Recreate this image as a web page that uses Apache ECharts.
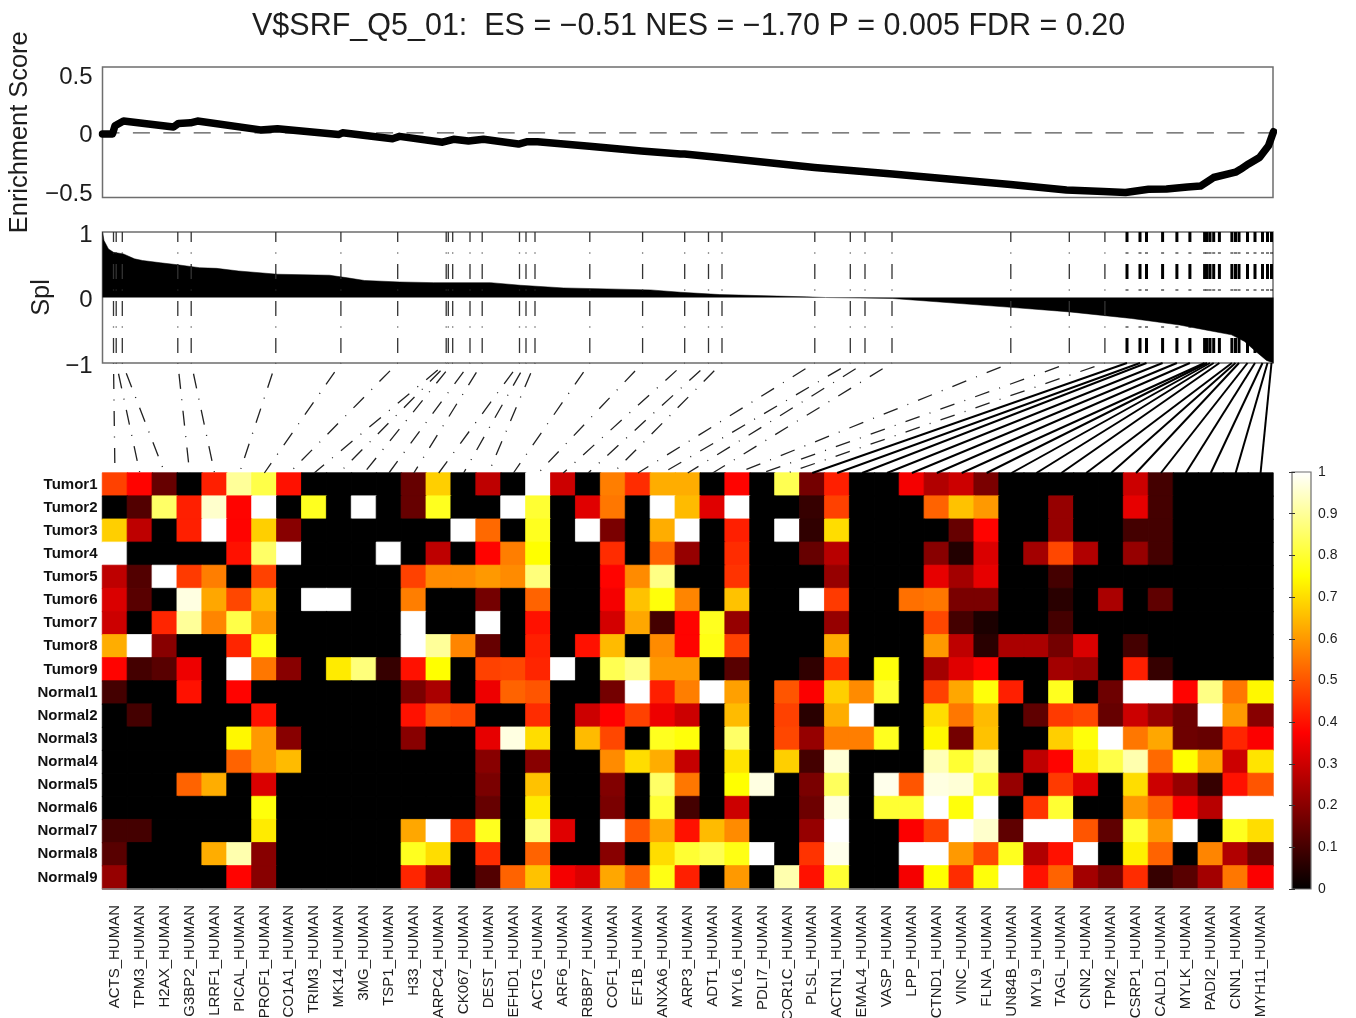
<!DOCTYPE html>
<html><head><meta charset="utf-8">
<style>html,body{margin:0;padding:0;background:#fff}#c{width:1356px;height:1018px}</style>
<script src="https://cdn.jsdelivr.net/npm/echarts@6/dist/echarts.min.js"></script>
</head><body><div id="c"></div>
<script>
const titleText = 'V$SRF_Q5_01:  ES = \u22120.51 NES = \u22121.70 P = 0.005 FDR = 0.20';
const sampleNames = ['Tumor1','Tumor2','Tumor3','Tumor4','Tumor5','Tumor6','Tumor7','Tumor8','Tumor9','Normal1','Normal2','Normal3','Normal4','Normal5','Normal6','Normal7','Normal8','Normal9'];
const geneNames = ['ACTS_HUMAN','TPM3_HUMAN','H2AX_HUMAN','G3BP2_HUMAN','LRRF1_HUMAN','PICAL_HUMAN','PROF1_HUMAN','CO1A1_HUMAN','TRIM3_HUMAN','MK14_HUMAN','3MG_HUMAN','TSP1_HUMAN','H33_HUMAN','ARPC4_HUMAN','CK067_HUMAN','DEST_HUMAN','EFHD1_HUMAN','ACTG_HUMAN','ARF6_HUMAN','RBBP7_HUMAN','COF1_HUMAN','EF1B_HUMAN','ANXA6_HUMAN','ARP3_HUMAN','ADT1_HUMAN','MYL6_HUMAN','PDLI7_HUMAN','COR1C_HUMAN','PLSL_HUMAN','ACTN1_HUMAN','EMAL4_HUMAN','VASP_HUMAN','LPP_HUMAN','CTND1_HUMAN','VINC_HUMAN','FLNA_HUMAN','UN84B_HUMAN','MYL9_HUMAN','TAGL_HUMAN','CNN2_HUMAN','TPM2_HUMAN','CSRP1_HUMAN','CALD1_HUMAN','MYLK_HUMAN','PADI2_HUMAN','CNN1_HUMAN','MYH11_HUMAN'];
const heatValues = [
[.47,.38,.15,0,.42,.9,.82,.4,0,0,0,0,.15,.68, 0,.28,0,1,.3,0,.56,.44,.63,.63,0,.38,0,.83,.17,.42,0,0, .36,.26,.3,.18,0,0,0,0,0,.3,.1,0,0,0,0],
[0,.12,.85,.42,.95,.38,1,0,.78,0,1,0,.15,.78, 0,0,1,.8,0,.33,.55,0,1,.65,.33,1,0,0,.08,.47,0,0, 0,.52,.66,.6,0,0,.22,0,0,.34,.1,0,0,0,0],
[.68,.28,0,.42,1,.38,.68,.2,0,0,0,0,0,0, 1,.53,0,.78,0,1,.18,0,.63,1,0,.42,0,1,.07,.7,0,0, 0,0,.15,.38,0,0,.22,0,0,.1,.1,0,0,0,0],
[1,0,0,0,0,.4,.85,1,0,0,0,1,0,.28, 0,.38,.56,.75,0,0,.44,0,.52,.22,0,.44,0,0,.15,.27,0,0, 0,.2,.05,.32,0,.24,.48,.26,0,.22,.1,0,0,0,0],
[.28,.12,1,.46,.56,0,.47,0,0,0,0,0,.47,.58, .58,.6,.58,.87,0,0,.38,.58,.88,0,0,.45,0,0,0,.22,0,0, 0,.34,.24,.34,0,0,.1,0,0,0,0,0,0,0,0],
[.32,.13,0,.97,.62,.48,.65,0,1,1,0,0,.56,0, 0,.17,0,.52,0,0,.36,.66,.76,.57,0,.66,0,0,1,.46,0,0, .54,.55,.18,.18,0,0,.06,0,.25,0,.14,0,0,0,0],
[.3,0,.43,.9,.57,.82,.6,0,0,0,0,0,1,0, 0,1,0,.4,0,0,.31,.62,.1,.38,.78,.22,0,0,0,.22,0,0, 0,.48,.1,.04,0,0,.1,0,0,0,0,0,0,0,0],
[.63,1,.2,0,0,.43,.77,0,0,0,0,0,1,.9, .57,.15,0,.42,0,.4,.65,0,.58,.38,.77,.47,0,0,0,.63,0,0, 0,.6,.28,.06,.25,.25,.17,.32,0,.1,0,0,0,0,0],
[.38,.1,.13,.35,0,1,.55,.2,0,.72,.87,.08,.4,.75, 0,.47,.48,.43,1,0,.83,.88,.6,.6,0,.13,0,0,.07,.44,0,.76, 0,.24,.33,.38,0,0,.24,.22,0,.42,.08,0,0,0,0],
[.1,0,0,.4,0,.38,0,0,0,0,0,0,.18,.25, 0,.35,.52,.5,0,0,.17,1,.42,.56,1,.61,0,.5,.37,.68,.58,.8, 0,.47,.62,.76,.42,0,.78,0,.16,1,1,.38,.88,.55,.74],
[0,.1,0,0,0,0,.4,0,0,0,0,0,.4,.5, .48,0,0,.44,0,.3,.375,.47,.35,.3,0,.65,0,.47,.06,.63,1,0, 0,.7,.55,.65,0,.14,.46,.48,.15,.3,.22,.16,1,.6,.2],
[0,0,0,0,0,.74,.6,.2,0,0,0,0,.2,0, 0,.34,.97,.7,0,.65,.48,0,.78,.76,0,.85,0,.48,.22,.56,.56,.78, 0,.74,.17,.66,0,0,.68,.76,1,.55,.62,.16,.15,.43,.37],
[0,0,0,0,0,.52,.6,.65,0,0,0,0,0,0, 0,.2,0,.2,0,0,.58,.7,.63,.29,0,.71,0,.68,.1,.96,0,0, 0,.93,.8,.9,0,.28,.38,.72,.82,.92,.53,.75,.62,.3,.71],
[0,0,0,.52,.63,0,.32,0,0,0,0,0,0,0, 0,.18,0,.66,0,0,.19,0,.85,.55,0,.75,.97,0,.18,.84,0,.98, .5,.97,.96,.8,.22,0,.46,.33,0,.7,.3,.22,.08,.4,.5],
[0,0,0,0,0,0,.76,0,0,0,0,0,0,0, 0,.15,0,.72,0,0,.18,0,.8,.1,0,.3,0,0,.16,.97,0,.8, .8,1,.76,1,0,.45,.8,0,0,.6,.52,.37,.27,1,1],
[.1,.1,0,0,0,0,.72,0,0,0,0,0,.62,1, .46,.78,0,.87,.33,0,1,.5,.62,.4,.65,.58,0,0,.22,1,0,0, .37,.47,1,.95,.14,1,1,.5,.14,.8,.6,1,0,.78,.7],
[.13,0,0,0,.63,.92,.2,0,0,0,0,0,.78,.7, 0,.44,0,.52,0,0,.2,0,.7,.8,.83,.77,1,0,.45,.98,0,0, 1,1,.6,.48,.78,.26,.4,1,0,.73,.52,0,.57,.26,.16],
[.22,0,0,0,0,.38,.2,0,0,0,0,0,.43,.24, 0,.12,.52,.66,.36,.32,.62,.52,.77,.42,0,.6,0,.92,.4,.8,0,0, .36,.75,.44,.76,1,.4,.52,.24,.17,.44,.08,.13,.24,.55,.37]
];
const hotColors = ['#000000','#550000','#aa0000','#ff0000','#ff5500','#ffaa00','#ffff00','#ffff80','#ffffff'];
const rankMax = 1170.5;
const hitRanks = [11,13.7,19.8,75.3,88.7,173.3,238.4,295.2,343.7,345.8,350.2,367.5,379.7,417,423.5,432.5,487.3,540.1,582.2,606,619.5,712.3,747.8,762.5,789.5,908.3,966.8,1002.4,
1024.5,1037.5,1044,1060.1,1074.4,1087.4,1102.1,1104.5,1107.5,1111.2,1116.9,1129.4,1133,1136.5,1145,1152.5,1160,1165,1169];
const thinHitCount = 28;
const esRanks = [0,10,12.5,21,71,76,88,95,158,175,236,240,290,297,340,351,366,381,416,425,435,487,539,578,582,617,712,790,908,964,1001,1023,1046,1064,1085,1098,1111,1133,1138,1146,1157,1166,1171];
const esValues = [-.01,-.01,.06,.1,.05,.08,.085,.1,.025,.035,-.015,0,-.05,-.03,-.08,-.055,-.07,-.055,-.095,-.075,-.075,-.115,-.155,-.18,-.18,-.21,-.295,-.35,-.44,-.487,-.5,-.507,-.48,-.478,-.46,-.453,-.38,-.335,-.31,-.265,-.21,-.11,.01];
const splRanks = [0,1.5,6,11,21,32,40,58,75,97,114,136,175,227,245,262,297,331,388,418,461,548,578,617,704,723,790,834,908,967,1029,1077,1103,1129,1142,1153,1164,1171];
const splValues = [1,.87,.74,.69,.665,.59,.565,.53,.5,.455,.445,.405,.355,.34,.3,.26,.237,.227,.227,.187,.146,.116,.08,.045,.01,0,-.015,-.065,-.15,-.22,-.32,-.42,-.495,-.57,-.67,-.82,-.96,-1];
const esTicks = [-0.5,0,0.5];
const splTicks = [-1,0,1];

const INK = '#1d1d1d', FRAME = '#6e6e6e', FONT = '"Liberation Sans",Arial,sans-serif';
const pattern = [15,10.5,1,10.5];
const minus = v => String(v).replace('-', '\u2212');
const zip = (a,b) => a.map((x,i) => [x,b[i]]);
const hidden = {show:false};

const heatData = [];
heatValues.forEach((row,r) => row.forEach((v,c) => heatData.push({
  value:[c,r,v],
  itemStyle:{borderWidth:0.8,borderColor:echarts.color.lerp(v,hotColors)}
})));

function rankAxis(i){ return {type:'value',gridIndex:i,min:0,max:rankMax,show:false}; }
function valueY(i,min,max,ticks,name,gap){
  return {type:'value',gridIndex:i,min,max,name,nameLocation:'middle',nameGap:gap,nameRotate:90,
    nameTextStyle:{fontFamily:FONT,fontSize:25.4,color:INK},
    axisLine:hidden,splitLine:hidden,
    axisTick:{show:false},
    axisLabel:{customValues:ticks,formatter:v=>'{t|'+minus(v)+'}',margin:10,
      rich:{t:{fontFamily:FONT,fontSize:24,color:INK,padding:[6,0,0,0]}}}};
}

const option = {
  animation:false, backgroundColor:'#fff',
  title:{text:titleText,left:252,top:11,padding:0,textStyle:{fontFamily:FONT,fontSize:30.5,fontWeight:'normal',color:INK}},
  grid:[
    {left:102.5,top:67,width:1170.5,height:130.5,show:true,borderColor:FRAME,borderWidth:1.5,backgroundColor:'#fff',outerBoundsMode:'none'},
    {left:102.5,top:232,width:1170.5,height:131,show:true,borderColor:FRAME,borderWidth:1.5,backgroundColor:'#fff',outerBoundsMode:'none'},
    {left:102.5,top:363,width:1170.5,height:110,outerBoundsMode:'none'},
    {left:102.5,top:473,width:1170.5,height:416,outerBoundsMode:'none'},
    {left:1292,top:472,width:19,height:417,outerBoundsMode:'none'}
  ],
  xAxis:[rankAxis(0),rankAxis(1),rankAxis(2),
    {type:'category',gridIndex:3,data:geneNames,z:5,
      axisLine:{lineStyle:{color:'#8a8a8a',width:1.5}},axisTick:hidden,splitLine:hidden,
      axisLabel:{interval:0,rotate:90,margin:16,fontFamily:FONT,fontSize:15,color:INK,hideOverlap:false}},
    {type:'value',gridIndex:4,min:0,max:1,show:false}
  ],
  yAxis:[
    valueY(0,-0.55,0.56,esTicks,'Enrichment Score',70),
    valueY(1,-1,1,splTicks,'Spl',46),
    {type:'value',gridIndex:2,min:0,max:1,show:false},
    {type:'category',gridIndex:3,inverse:true,data:sampleNames,
      axisLine:hidden,axisTick:hidden,splitLine:hidden,
      axisLabel:{interval:0,margin:5,fontFamily:FONT,fontSize:15,fontWeight:'bold',color:'#111'}},
    {type:'value',gridIndex:4,min:0,max:1,interval:0.1,position:'right',z:5,
      axisLine:hidden,splitLine:hidden,
      axisTick:{show:true,inside:true,length:3,lineStyle:{color:'#333'}},
      axisLabel:{fontFamily:FONT,fontSize:14,color:INK,margin:7,formatter:v=>String(+v.toFixed(1))}},
    {type:'value',gridIndex:4,min:0,max:1,interval:0.1,position:'left',z:5,
      axisLine:hidden,splitLine:hidden,
      axisTick:{show:true,inside:true,length:3,lineStyle:{color:'#333'}},axisLabel:hidden}
  ],
  visualMap:{show:false,type:'continuous',min:0,max:1,dimension:2,seriesIndex:0,inRange:{color:hotColors}},
  series:[
    {type:'heatmap',xAxisIndex:3,yAxisIndex:3,data:heatData,silent:true,progressive:0,emphasis:{disabled:true}},
    {type:'line',xAxisIndex:0,yAxisIndex:0,data:[[0,0],[rankMax,0]],symbol:'none',silent:true,
      lineStyle:{color:'#555',width:1.3,type:[17,13.4]}},
    {type:'line',xAxisIndex:0,yAxisIndex:0,data:zip(esRanks,esValues),symbol:'none',silent:true,clip:false,
      lineStyle:{color:'#000',width:7.5,join:'round',cap:'round'}},
    {type:'line',xAxisIndex:1,yAxisIndex:1,data:zip(splRanks,splValues),symbol:'none',silent:true,
      lineStyle:{color:'#000',width:0.5},areaStyle:{color:'#000',opacity:1,origin:0}},
    {type:'custom',xAxisIndex:1,yAxisIndex:1,silent:true,clip:false,z:3,data:hitRanks.map((h,i)=>[h,i]),
      renderItem(p,api){
        const a=api.coord([api.value(0),1]), b=api.coord([api.value(0),-1]), thick=api.value(1)>=thinHitCount;
        return {type:'line',shape:{x1:a[0],y1:a[1],x2:b[0],y2:b[1]},
          style:{stroke:thick?'#000':'#333',lineWidth:thick?3:1.3,lineDash:pattern,lineDashOffset:5}};
      }},
    {type:'custom',xAxisIndex:2,yAxisIndex:2,silent:true,clip:false,data:hitRanks.map((h,i)=>[h,i]),
      renderItem(p,api){
        const i=api.value(1), a=api.coord([api.value(0),1]), b=api.coord([(i+0.5)/geneNames.length*rankMax,0]), thick=i>=thinHitCount;
        return {type:'line',shape:{x1:a[0],y1:a[1],x2:b[0],y2:b[1]},
          style:thick?{stroke:'#000',lineWidth:2}:{stroke:'#222',lineWidth:1.3,lineDash:pattern,lineDashOffset:26}};
      }},
    {type:'custom',xAxisIndex:4,yAxisIndex:4,silent:true,clip:false,data:[[0,1]],
      renderItem(p,api){
        const a=api.coord([0,1]), b=api.coord([1,0]);
        return {type:'rect',shape:{x:a[0],y:a[1],width:b[0]-a[0],height:b[1]-a[1]},
          style:{stroke:FRAME,lineWidth:1.2,
            fill:new echarts.graphic.LinearGradient(0,1,0,0,hotColors.map((c,i)=>({offset:i/(hotColors.length-1),color:c})))}};
      }}
  ]
};
echarts.init(document.getElementById('c'),null,{renderer:'canvas'}).setOption(option);
</script></body></html>
